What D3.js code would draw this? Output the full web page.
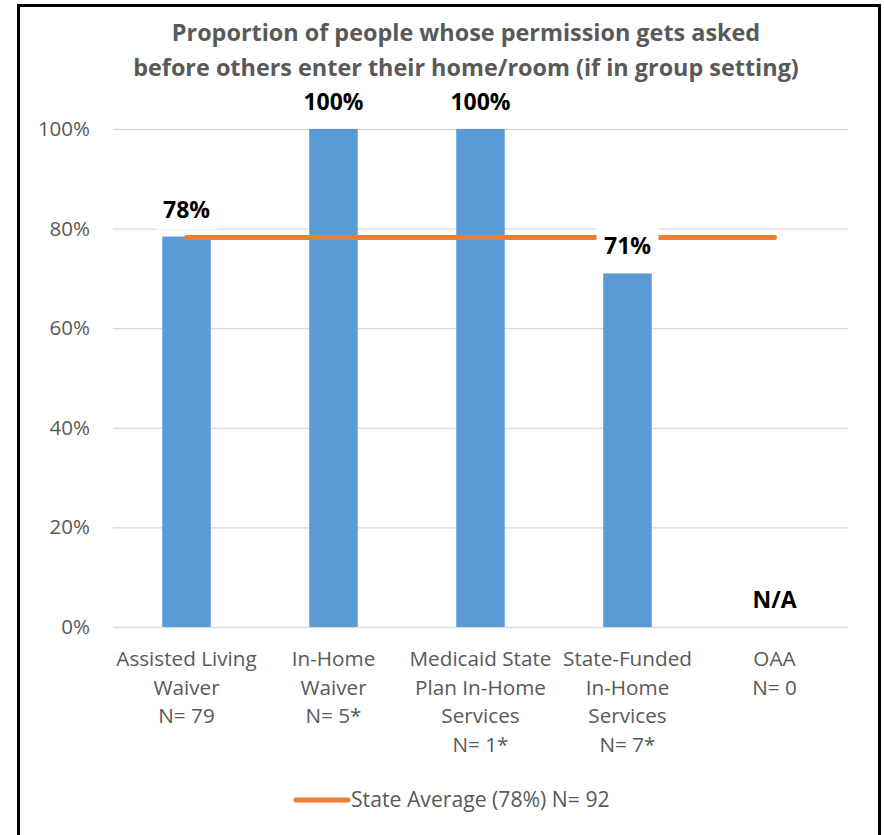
<!DOCTYPE html>
<html>
<head>
<meta charset="utf-8">
<script src="https://cdn.jsdelivr.net/npm/d3@7"></script>
<style>
  html, body { margin: 0; padding: 0; background: #fff; }
  svg { display: block; }
</style>
</head>
<body>
<script>
// Program categories (each line of the axis label) and their results
const categories = [
  ["Assisted Living", "Waiver", "N= 79"],
  ["In-Home", "Waiver", "N= 5*"],
  ["Medicaid State", "Plan In-Home", "Services", "N= 1*"],
  ["State-Funded", "In-Home", "Services", "N= 7*"],
  ["OAA", "N= 0"]
];
const values = [0.784, 1.00, 1.00, 0.71, null];   // null = no data (N/A)
const stateAverage = 0.782;
const stateN = 92;
const yTicks = [0, 0.2, 0.4, 0.6, 0.8, 1.0];
const titleLines = [
  "Proportion of people whose permission gets asked",
  "before others enter their home/room (if in group setting)"
];

const W = 884, H = 835;
const margin = { left: 113, right: 36, top: 129, bottom: 208 };
const fontBody = "'Open Sans', 'Noto Sans', sans-serif";

const svg = d3.select("body").append("svg")
  .attr("width", W).attr("height", H);

svg.append("rect").attr("width", W).attr("height", H).attr("fill", "#fff");

// outer frame
svg.append("rect")
  .attr("x", 18.5).attr("y", 5.5)
  .attr("width", 861).attr("height", H + 20)
  .attr("fill", "none").attr("stroke", "#000").attr("stroke-width", 3);

const x = d3.scaleBand()
  .domain(d3.range(categories.length))
  .range([margin.left, W - margin.right])
  .paddingInner(0.67).paddingOuter(0.335);

const xc = d3.scalePoint()
  .domain(d3.range(categories.length))
  .range([margin.left, W - margin.right])
  .padding(0.5);

const y = d3.scaleLinear().domain([0, 1]).range([H - margin.bottom, margin.top]);

// title
svg.append("g").selectAll("text").data(titleLines).join("text")
  .attr("x", 466).attr("y", (d, i) => 41 + i * 35)
  .attr("text-anchor", "middle")
  .attr("font-family", fontBody).attr("font-weight", 700)
  .attr("font-size", 23.4).attr("fill", "#595959")
  .text(d => d);

// y axis with gridlines
const yAxis = d3.axisLeft(y)
  .tickValues(yTicks)
  .tickFormat(d3.format(".0%"))
  .tickSize(-(W - margin.right - margin.left))
  .tickPadding(23);

const gy = svg.append("g")
  .attr("transform", `translate(${margin.left},0)`)
  .call(yAxis);
gy.select(".domain").remove();
gy.selectAll(".tick line").attr("stroke", "#d9d9d9").attr("stroke-width", 1.3);
gy.selectAll(".tick text")
  .attr("font-family", fontBody).attr("font-size", 20.5).attr("fill", "#595959");

// bars
const barData = values.map((v, i) => ({ i, v }));
svg.append("g").selectAll("rect").data(barData.filter(d => d.v != null)).join("rect")
  .attr("x", d => x(d.i)).attr("width", x.bandwidth())
  .attr("y", d => y(d.v)).attr("height", d => y(0) - y(d.v))
  .attr("fill", "#5b9bd5");

// state average line
svg.append("line")
  .attr("x1", xc(0)).attr("x2", xc(categories.length - 1))
  .attr("y1", y(stateAverage)).attr("y2", y(stateAverage))
  .attr("stroke", "#ed7d31").attr("stroke-width", 5).attr("stroke-linecap", "round");

// data labels with white backing
const fmt = d3.format(".0%");
const lab = svg.append("g").selectAll("g").data(barData).join("g")
  .attr("transform", d => `translate(${xc(d.i)},${y(d.v == null ? 0 : d.v) - 19})`);
lab.filter(d => d.v != null && d.v < 1).append("rect")
  .attr("x", -31).attr("y", -28).attr("width", 62).attr("height", 40)
  .attr("fill", "#fff");
lab.append("text")
  .attr("text-anchor", "middle")
  .attr("font-family", fontBody).attr("font-weight", 700)
  .attr("font-size", 23).attr("fill", "#000")
  .text(d => d.v == null ? "N/A" : fmt(d.v));

// category labels
const cat = svg.append("g").selectAll("text").data(categories).join("text")
  .attr("text-anchor", "middle")
  .attr("font-family", fontBody).attr("font-size", 20.7).attr("fill", "#595959");
cat.selectAll("tspan").data((d, i) => d.map(s => ({ s, i }))).join("tspan")
  .attr("x", d => xc(d.i))
  .attr("y", (d, j) => y(0) + 39 + j * 28.5)
  .text(d => d.s);

// legend
const lg = svg.append("g").attr("transform", "translate(296,800)");
lg.append("line").attr("x1", 0).attr("x2", 52)
  .attr("stroke", "#ed7d31").attr("stroke-width", 5).attr("stroke-linecap", "round");
lg.append("text").attr("x", 55).attr("y", 7)
  .attr("font-family", fontBody).attr("font-size", 21.2).attr("fill", "#595959")
  .text(`State Average (${fmt(stateAverage)}) N= ${stateN}`);
</script>
</body>
</html>
